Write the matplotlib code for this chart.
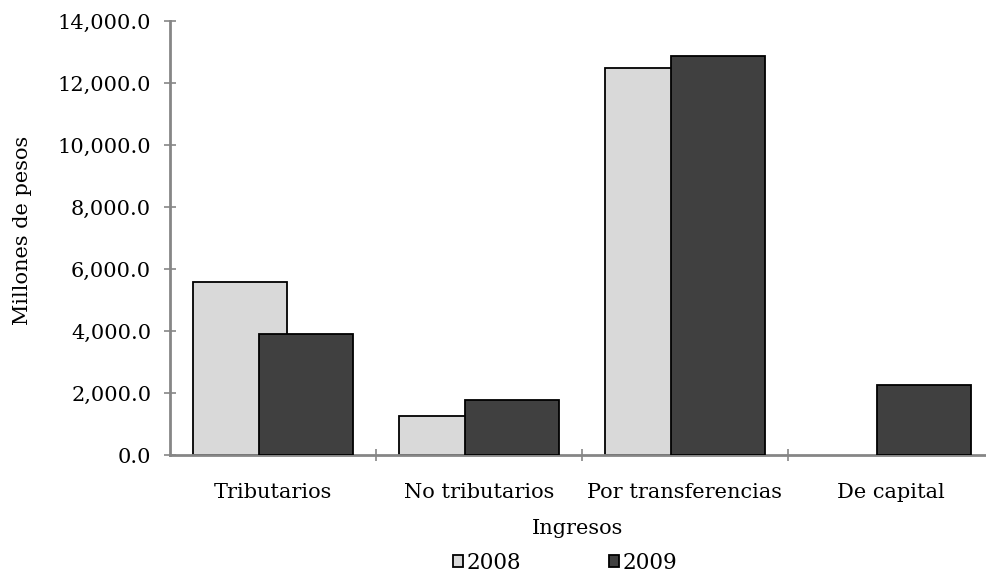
import matplotlib.pyplot as plt
import numpy as np

# data
categorias = ['Tributarios', 'No tributarios', 'Por transferencias', 'De capital']
valores_2008 = [5580, 1250, 12480, 0]
valores_2009 = [3890, 1760, 12870, 2270]

plt.rcParams['font.family'] = ['DejaVu Serif']

fig = plt.figure(figsize=(9.86, 5.73), dpi=100)
ax = fig.add_axes([0.1724, 0.2059, 0.8357, 0.7575])

x = np.arange(len(categorias))
ancho = 0.46
b08 = ax.bar(x - 0.16, valores_2008, ancho, color='#d9d9d9', edgecolor='black',
             linewidth=1.3, label='2008', zorder=2)
b09 = ax.bar(x + 0.16, valores_2009, ancho, color='#404040', edgecolor='black',
             linewidth=1.3, label='2009', zorder=3)
# a zero bar is not drawn at all
for barra, v in zip(b08, valores_2008):
    if v == 0:
        barra.set_visible(False)

ax.set_xlim(-0.5, 3.5)
ax.set_ylim(0, 14000)
ax.set_yticks(np.arange(0, 14001, 2000))
ax.set_yticklabels(['{:,.1f}'.format(v) for v in np.arange(0, 14001, 2000)])

# category labels centered, ticks at category boundaries
ax.set_xticks(np.arange(0.5, 3.5, 1))
ax.set_xticklabels([])
ax.set_xticks(x, minor=True)
ax.set_xticklabels(categorias, minor=True)
ax.tick_params(axis='x', which='minor', length=0, pad=20, labelsize=15)
ax.tick_params(axis='x', which='major', direction='inout', length=9,
               width=1.2, color='#868686')
ax.tick_params(axis='y', direction='inout', length=9, width=1.2,
               color='#868686', labelsize=15, pad=9)

for s in ['top', 'right']:
    ax.spines[s].set_visible(False)
for s in ['left', 'bottom']:
    ax.spines[s].set_color('#868686')
    ax.spines[s].set_linewidth(2)

fig.text(578 / 986, 1 - 528 / 573, 'Ingresos', ha='center', va='center',
         fontsize=15)
fig.text(23 / 986, 1 - 230 / 573, 'Millones de pesos', ha='center',
         va='center', rotation=90, fontsize=15)

fig.legend(loc='center', bbox_to_anchor=(0.573, 0.0175), ncol=2, frameon=False,
           fontsize=15.5, handlelength=0.47, handleheight=0.47,
           handletextpad=0.15, columnspacing=4.1, borderpad=0)

fig.savefig('out.png', dpi=100)
